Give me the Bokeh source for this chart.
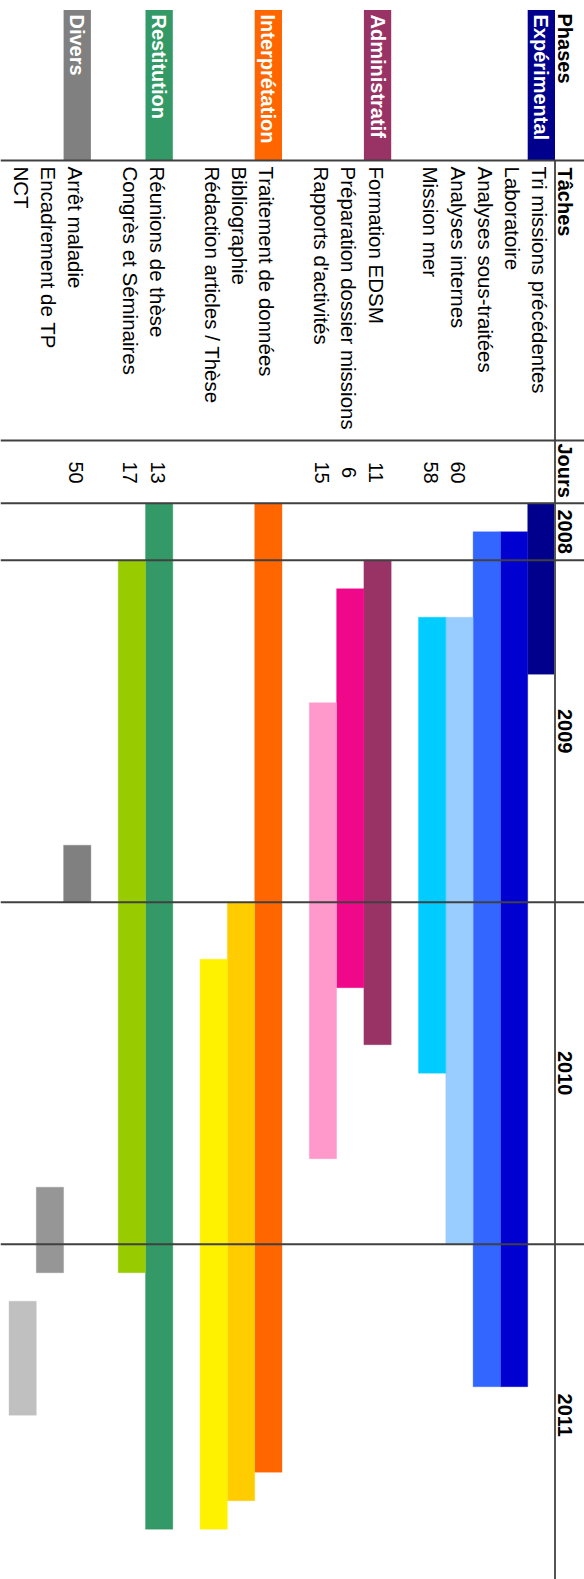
import math
from bokeh.plotting import figure
from bokeh.models import ColumnDataSource, Range1d, Span
from bokeh.core.properties import value
from bokeh.embed import file_html
from bokeh.resources import INLINE

# ---------------- data ----------------
phases = ["Expérimental", "Administratif", "Interprétation", "Restitution", "Divers"]
phase_colors = ["#00008C", "#993366", "#FF6600", "#339966", "#808080"]

tasks = ["Tri missions précédentes", "Laboratoire", "Analyses sous-traitées",
         "Analyses internes", "Mission mer",
         "Formation EDSM", "Préparation dossier missions", "Rapports d'activités",
         "Traitement de données", "Bibliographie", "Rédaction articles / Thèse",
         "Réunions de thèse", "Congrès et Séminaires",
         "Arrêt maladie", "Encadrement de TP", "NCT"]
task_phase = [0, 0, 0, 0, 0, 1, 1, 1, 2, 2, 2, 3, 3, 4, 4, 4]
task_start = ["2008-11", "2008-12", "2008-12", "2009-03", "2009-03",
              "2009-01", "2009-02", "2009-06",
              "2008-11", "2010-01", "2010-03",
              "2008-11", "2009-01",
              "2009-11", "2010-11", "2011-03"]
task_end = ["2009-04", "2011-05", "2011-05", "2010-12", "2010-06",
            "2010-05", "2010-03", "2010-09",
            "2011-08", "2011-09", "2011-10",
            "2011-10", "2011-01",
            "2009-12", "2011-01", "2011-06"]
task_days = [None, None, None, 60, 58, 11, 6, 15, None, None, None, 13, 17, 50, None, None]
task_colors = ["#00008C", "#0000D0", "#3366FF", "#99CCFF", "#00CCFF",
               "#993366", "#F0088A", "#FF99CC",
               "#FF6600", "#FFCC00", "#FFF200",
               "#339966", "#99CC00",
               "#808080", "#969696", "#C0C0C0"]
years = [2008, 2009, 2010, 2011]
headers = ["Phases", "Tâches", "Jours"]
timeline_first = "2008-11"
timeline_last = "2011-12"

# ---------------- layout helpers ----------------
W, H = 584, 1579
ROW_PX = 27.3
MONTH_PX = 28.5
TABLE_RIGHT = 554.5      # px
TIMELINE_TOP = 502.7     # px


def midx(s):
    y, m = s.split("-")
    fy, fm = timeline_first.split("-")
    return (int(y) - int(fy)) * 12 + int(m) - int(fm)


def ym(px):  # px (from top) -> month units
    return (px - TIMELINE_TOP) / MONTH_PX


x_left = TABLE_RIGHT / ROW_PX
x_right = -(W - TABLE_RIGHT) / ROW_PX
y_top = ym(0)
y_bottom = ym(H)

rows = []
phase_rows = []
r = 0
for pi in range(len(phases)):
    first = True
    for ti, ph in enumerate(task_phase):
        if ph == pi:
            if first:
                phase_rows.append(r)
                first = False
            rows.append(r)
            r += 1
    r += 1
n_rows = r - 1

p = figure(width=W, height=H, x_range=Range1d(x_left, x_right),
           y_range=Range1d(y_bottom, y_top), output_backend="svg",
           toolbar_location=None, min_border=0, outline_line_color=None,
           x_axis_location=None, y_axis_location=None)
p.grid.visible = False
p.background_fill_color = "white"
p.border_fill_color = "white"

FONT = value("Liberation Sans")
ANG = -math.pi / 2

bars = ColumnDataSource(dict(
    left=[rw + 1 for rw in rows], right=rows,
    top=[midx(s) for s in task_start], bottom=[midx(e) + 1 for e in task_end],
    color=task_colors))
p.quad(left="left", right="right", top="top", bottom="bottom", source=bars,
       fill_color="color", line_color="color", line_alpha=0.35, line_width=1)

pb = ColumnDataSource(dict(left=[rw + 1 for rw in phase_rows], right=phase_rows,
                           top=[ym(9.5)] * len(phases), bottom=[ym(160)] * len(phases),
                           color=phase_colors, name=phases,
                           x=[rw + 0.5 for rw in phase_rows], y=[ym(14)] * len(phases)))
p.quad(left="left", right="right", top="top", bottom="bottom", source=pb,
       fill_color="color", line_color=None)
p.text(x="x", y="y", text="name", source=pb, angle=ANG, text_color="white",
       text_font=FONT, text_font_style="bold", text_font_size="20px",
       text_align="left", text_baseline="middle")

tn = ColumnDataSource(dict(x=[rw + 0.55 for rw in rows], y=[ym(166)] * len(tasks), t=tasks))
p.text(x="x", y="y", text="t", source=tn, angle=ANG, text_color="black",
       text_font=FONT, text_font_size="20.5px", text_align="left", text_baseline="middle")

dr = [rw for rw, d in zip(rows, task_days) if d is not None]
dv = [str(d) for d in task_days if d is not None]
dd = ColumnDataSource(dict(x=[rw + 0.55 for rw in dr], y=[ym(472)] * len(dr), t=dv))
p.text(x="x", y="y", text="t", source=dd, angle=ANG, text_color="black",
       text_font=FONT, text_font_size="20px", text_align="center", text_baseline="middle")

hx = -(564.5 - TABLE_RIGHT) / ROW_PX
hd = ColumnDataSource(dict(x=[hx] * 3, y=[ym(13), ym(167), ym(443)], t=headers))
p.text(x="x", y="y", text="t", source=hd, angle=ANG, text_color="black",
       text_font=FONT, text_font_style="bold", text_font_size="20px",
       text_align="left", text_baseline="middle")

last = midx(timeline_last) + 1
ystart = [max(0, midx(f"{y}-01")) for y in years]
yend = [min(last, midx(f"{y}-12") + 1) for y in years]
yc = ColumnDataSource(dict(x=[hx] * len(years), y=[(a + b) / 2 for a, b in zip(ystart, yend)],
                           t=[str(y) for y in years]))
p.text(x="x", y="y", text="t", source=yc, angle=ANG, text_color="black",
       text_font=FONT, text_font_style="bold", text_font_size="20px",
       text_align="center", text_baseline="middle")

for loc in [ym(160), ym(440), 0] + [s for s in ystart if s > 0]:
    p.add_layout(Span(location=loc, dimension="width", line_color="#404040", line_width=2))
p.add_layout(Span(location=n_rows + 1, dimension="height", line_color="black", line_width=2))
p.segment(x0=[0], y0=[ym(160)], x1=[0], y1=[y_bottom], line_color="#555555", line_width=2)

open("out.html", "w").write(file_html(p, INLINE))
